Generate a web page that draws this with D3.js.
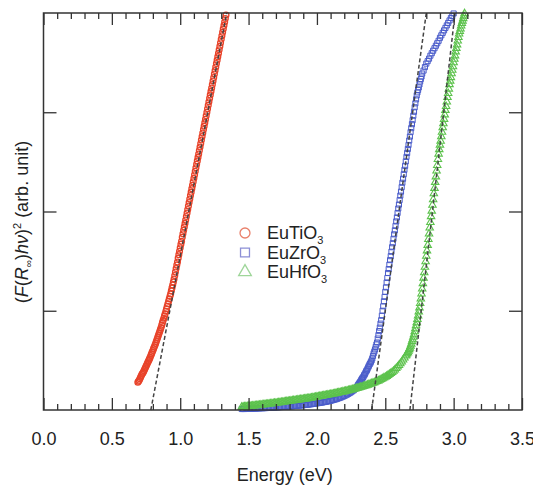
<!DOCTYPE html>
<html>
<head>
<meta charset="utf-8">
<script src="https://cdn.jsdelivr.net/npm/d3@7"></script>
<style>
  body { margin: 0; background: #fff; }
  text { font-family: "Liberation Sans", Arial, sans-serif; fill: #222; }
</style>
</head>
<body>
<svg id="chart" width="533" height="486"></svg>
<script>
// Kubelka–Munk Tauc plot: (F(R∞)hν)^2 versus photon energy

const xMajorTicks = [0, 0.5, 1.0, 1.5, 2.0, 2.5, 3.0, 3.5];
const xTickLabels = ["0.0", "0.5", "1.0", "1.5", "2.0", "2.5", "3.0", "3.5"];
const yMajorTicks = [1, 2, 3];

const seriesNames = ["EuTiO", "EuZrO", "EuHfO"];

// [energy (eV), (F(R)hv)^2 (arb. unit)]
const euTiO3 = [
  [0.690,0.28],[0.695,0.29],[0.700,0.30],[0.705,0.315],[0.710,0.33],[0.715,0.345],
  [0.720,0.36],[0.725,0.37],[0.730,0.38],[0.735,0.395],[0.740,0.41],[0.745,0.425],
  [0.750,0.44],[0.755,0.455],[0.760,0.47],[0.765,0.485],[0.770,0.50],[0.775,0.515],
  [0.780,0.53],[0.785,0.548],[0.790,0.565],[0.795,0.583],[0.800,0.60],[0.805,0.618],
  [0.810,0.635],[0.815,0.653],[0.820,0.67],[0.825,0.69],[0.830,0.71],[0.835,0.73],
  [0.840,0.75],[0.845,0.77],[0.850,0.79],[0.855,0.81],[0.860,0.83],[0.865,0.855],
  [0.870,0.88],[0.875,0.903],[0.880,0.925],[0.885,0.948],[0.890,0.97],[0.895,0.995],
  [0.900,1.02],[0.905,1.045],[0.910,1.07],[0.915,1.095],[0.920,1.12],
  [0.925,1.145],[0.930,1.17],[0.935,1.20],[0.940,1.23],[0.945,1.26],[0.950,1.29],
  [0.955,1.32],[0.960,1.355],[0.965,1.39],[0.970,1.425],[0.975,1.46],[0.980,1.49],
  [0.985,1.53],[0.990,1.565],[0.995,1.60],[1.000,1.635],[1.005,1.67],[1.010,1.70],
  [1.015,1.74],[1.020,1.775],[1.025,1.81],[1.030,1.845],[1.035,1.88],[1.040,1.915],
  [1.045,1.95],[1.050,1.985],[1.055,2.02],[1.060,2.055],[1.065,2.09],[1.070,2.125],
  [1.075,2.16],[1.080,2.195],[1.085,2.23],[1.090,2.265],[1.095,2.30],[1.100,2.335],
  [1.105,2.37],[1.110,2.405],[1.115,2.44],[1.120,2.475],[1.125,2.51],[1.130,2.545],
  [1.135,2.58],[1.140,2.615],[1.145,2.65],[1.150,2.685],[1.155,2.72],[1.160,2.755],
  [1.165,2.79],[1.170,2.825],[1.175,2.86],[1.180,2.895],[1.185,2.93],[1.190,2.965],
  [1.195,3.00],[1.200,3.035],[1.205,3.07],[1.210,3.105],[1.215,3.14],[1.220,3.175],
  [1.225,3.21],[1.230,3.245],[1.235,3.28],[1.240,3.315],[1.245,3.35],[1.250,3.385],
  [1.255,3.42],[1.260,3.455],[1.265,3.49],[1.270,3.525],[1.275,3.56],[1.280,3.595],
  [1.285,3.63],[1.290,3.665],[1.295,3.70],[1.300,3.735],[1.305,3.77],[1.310,3.805],
  [1.315,3.84],[1.320,3.875],[1.325,3.91],[1.330,3.945],[1.335,3.98]
];

const euZrO3 = [
  [1.45,0.010],[1.46,0.010],[1.47,0.010],[1.48,0.011],[1.49,0.012],[1.50,0.012],
  [1.51,0.013],[1.52,0.013],[1.53,0.014],[1.54,0.014],[1.55,0.015],[1.56,0.015],
  [1.57,0.016],[1.58,0.017],[1.59,0.018],[1.60,0.018],[1.61,0.019],[1.62,0.019],
  [1.63,0.020],[1.64,0.021],[1.65,0.022],[1.66,0.022],[1.67,0.023],[1.68,0.024],
  [1.69,0.025],[1.70,0.026],[1.71,0.027],[1.72,0.028],[1.73,0.029],[1.74,0.030],
  [1.75,0.031],[1.76,0.032],[1.77,0.033],[1.78,0.034],[1.79,0.035],[1.80,0.036],
  [1.81,0.037],[1.82,0.038],[1.83,0.040],[1.84,0.041],[1.85,0.042],[1.86,0.043],
  [1.87,0.045],[1.88,0.046],[1.89,0.048],[1.90,0.049],[1.91,0.051],[1.92,0.052],
  [1.93,0.054],[1.94,0.055],[1.95,0.057],[1.96,0.059],[1.97,0.061],[1.98,0.063],
  [1.99,0.065],[2.00,0.067],[2.01,0.070],[2.02,0.072],[2.03,0.074],[2.04,0.076],
  [2.05,0.079],[2.06,0.081],[2.07,0.084],[2.08,0.087],[2.09,0.090],[2.10,0.093],
  [2.11,0.097],[2.12,0.101],[2.13,0.105],[2.14,0.109],[2.15,0.114],[2.16,0.119],
  [2.17,0.124],[2.18,0.129],[2.19,0.135],[2.20,0.141],[2.21,0.148],[2.22,0.155],
  [2.23,0.163],[2.24,0.171],[2.25,0.180],[2.26,0.190],[2.27,0.200],[2.28,0.212],
  [2.29,0.225],[2.295,0.237],[2.300,0.25],[2.305,0.26],[2.310,0.27],[2.315,0.28],[2.320,0.29],
  [2.325,0.305],[2.330,0.315],[2.335,0.325],[2.340,0.335],[2.345,0.35],[2.350,0.36],
  [2.355,0.375],[2.360,0.39],[2.365,0.40],[2.370,0.415],[2.375,0.43],[2.380,0.445],
  [2.385,0.46],[2.390,0.47],[2.395,0.485],[2.400,0.50],[2.405,0.52],[2.410,0.545],
  [2.415,0.57],[2.420,0.59],[2.425,0.61],[2.430,0.635],[2.435,0.66],[2.440,0.68],
  [2.445,0.72],[2.450,0.755],[2.455,0.795],[2.460,0.83],[2.465,0.87],[2.470,0.905],
  [2.475,0.95],[2.480,1.00],[2.485,1.045],[2.490,1.095],[2.495,1.14],[2.500,1.19],
  [2.505,1.235],[2.510,1.285],[2.515,1.33],[2.520,1.38],[2.525,1.42],[2.530,1.465],
  [2.535,1.51],[2.540,1.55],[2.545,1.595],[2.550,1.64],[2.555,1.68],[2.560,1.725],
  [2.565,1.77],[2.570,1.81],[2.575,1.855],[2.580,1.90],[2.585,1.94],[2.590,1.985],
  [2.595,2.03],[2.600,2.07],[2.605,2.115],[2.610,2.16],[2.615,2.20],[2.620,2.245],
  [2.625,2.29],[2.630,2.33],[2.635,2.375],[2.640,2.42],[2.645,2.46],[2.650,2.505],
  [2.655,2.55],[2.660,2.59],[2.665,2.63],[2.670,2.67],[2.675,2.715],[2.680,2.755],
  [2.685,2.80],[2.690,2.84],[2.695,2.88],[2.700,2.92],[2.705,2.965],[2.710,3.005],
  [2.715,3.05],[2.720,3.09],[2.725,3.13],[2.730,3.17],[2.735,3.20],[2.740,3.225],
  [2.745,3.25],[2.750,3.28],[2.755,3.31],[2.760,3.335],[2.765,3.36],[2.770,3.39],
  [2.780,3.42],[2.790,3.455],[2.800,3.49],[2.810,3.515],[2.820,3.54],[2.830,3.57],
  [2.840,3.595],[2.850,3.62],[2.860,3.645],[2.870,3.67],[2.880,3.695],[2.890,3.72],
  [2.900,3.75],[2.910,3.775],[2.920,3.80],[2.930,3.825],[2.940,3.85],[2.950,3.875],
  [2.960,3.90],[2.970,3.925],[2.980,3.95],[2.990,3.97],[3.000,3.995]
];

const euHfO3 = [
  [1.45,0.030],[1.46,0.031],[1.47,0.033],[1.48,0.034],[1.49,0.036],[1.50,0.037],
  [1.51,0.039],[1.52,0.040],[1.53,0.042],[1.54,0.043],[1.55,0.045],[1.56,0.046],
  [1.57,0.048],[1.58,0.050],[1.59,0.052],[1.60,0.053],[1.61,0.055],[1.62,0.056],
  [1.63,0.058],[1.64,0.060],[1.65,0.062],[1.66,0.063],[1.67,0.065],[1.68,0.067],
  [1.69,0.069],[1.70,0.070],[1.71,0.072],[1.72,0.074],[1.73,0.076],[1.74,0.078],
  [1.75,0.080],[1.76,0.082],[1.77,0.084],[1.78,0.086],[1.79,0.088],[1.80,0.090],
  [1.81,0.092],[1.82,0.094],[1.83,0.096],[1.84,0.098],[1.85,0.100],[1.86,0.102],
  [1.87,0.104],[1.88,0.106],[1.89,0.108],[1.90,0.110],[1.91,0.112],[1.92,0.114],
  [1.93,0.116],[1.94,0.118],[1.95,0.120],[1.96,0.122],[1.97,0.125],[1.98,0.127],
  [1.99,0.130],[2.00,0.132],[2.01,0.135],[2.02,0.137],[2.03,0.140],[2.04,0.142],
  [2.05,0.145],[2.06,0.147],[2.07,0.150],[2.08,0.152],[2.09,0.155],[2.10,0.157],
  [2.11,0.160],[2.12,0.163],[2.13,0.166],[2.14,0.169],[2.15,0.172],[2.16,0.175],
  [2.17,0.178],[2.18,0.181],[2.19,0.184],[2.20,0.187],[2.21,0.190],[2.22,0.193],
  [2.23,0.197],[2.24,0.200],[2.25,0.204],[2.26,0.207],[2.27,0.211],[2.28,0.214],
  [2.29,0.218],[2.30,0.222],[2.31,0.226],[2.32,0.230],[2.33,0.234],[2.34,0.238],
  [2.35,0.243],[2.36,0.247],[2.37,0.252],[2.38,0.257],[2.39,0.262],[2.40,0.267],
  [2.41,0.272],[2.42,0.277],[2.43,0.283],[2.44,0.289],[2.45,0.295],[2.46,0.302],
  [2.47,0.310],[2.48,0.317],[2.49,0.325],[2.50,0.332],[2.51,0.340],[2.52,0.350],
  [2.53,0.360],[2.54,0.370],[2.55,0.380],[2.56,0.392],[2.57,0.405],[2.58,0.420],
  [2.59,0.435],[2.60,0.450],[2.61,0.467],[2.62,0.485],[2.63,0.505],[2.64,0.525],
  [2.65,0.545],[2.655,0.556],[2.660,0.568],[2.665,0.58],[2.670,0.595],[2.675,0.61],
  [2.680,0.625],[2.685,0.645],[2.690,0.665],[2.695,0.69],[2.700,0.71],[2.705,0.735],
  [2.710,0.76],[2.715,0.79],[2.720,0.82],[2.725,0.85],[2.730,0.88],[2.735,0.915],
  [2.740,0.95],[2.745,0.99],[2.750,1.03],[2.755,1.075],[2.760,1.12],[2.765,1.17],
  [2.770,1.22],[2.775,1.275],[2.780,1.33],[2.785,1.385],[2.790,1.44],[2.795,1.495],
  [2.800,1.55],[2.805,1.605],[2.810,1.66],[2.815,1.72],[2.820,1.775],[2.825,1.835],
  [2.830,1.89],[2.835,1.95],[2.840,2.005],[2.845,2.065],[2.850,2.12],[2.855,2.18],
  [2.860,2.235],[2.865,2.295],[2.870,2.35],[2.875,2.41],[2.880,2.465],[2.885,2.525],
  [2.890,2.58],[2.895,2.625],[2.900,2.67],[2.905,2.71],[2.910,2.755],[2.915,2.80],
  [2.920,2.845],[2.925,2.885],[2.930,2.93],[2.935,2.975],[2.940,3.02],[2.945,3.06],
  [2.950,3.105],[2.955,3.15],[2.960,3.19],[2.965,3.235],[2.970,3.28],[2.975,3.315],
  [2.980,3.35],[2.985,3.39],[2.990,3.425],[2.995,3.46],[3.000,3.50],[3.005,3.535],
  [3.010,3.57],[3.015,3.61],[3.020,3.645],[3.025,3.68],[3.030,3.72],[3.035,3.755],
  [3.040,3.79],[3.045,3.815],[3.050,3.84],[3.055,3.87],[3.060,3.895],[3.065,3.92],
  [3.070,3.945],[3.075,3.97],[3.080,3.995]
];

// Linear extrapolations of the absorption edges (band-gap intercepts)
const fitTi = [[0.785, 0], [1.340, 4]];
const fitZr = [[2.400, 0], [2.800, 4]];
const fitHf = [[2.680, 0], [3.010, 4]];

const svg = d3.select("#chart");
const L = 43.5, R = 522, T = 13, B = 410;

const x = d3.scaleLinear().domain([0, 3.5]).range([L, R]);
const y = d3.scaleLinear().domain([0, 4]).range([B, T]);

const axisColor = "#333";

// ---- data markers ----
const red = "#e8432a", blue = "#4a5cca", green = "#5cc24c";

const gData = svg.append("g");

gData.append("g").selectAll("circle").data(euTiO3).join("circle")
  .attr("cx", d => x(d[0])).attr("cy", d => y(d[1])).attr("r", 2.9)
  .attr("fill", "none").attr("stroke", red).attr("stroke-width", 1.3);

const sq = d3.symbol().type(d3.symbolSquare).size(26);
gData.append("g").selectAll("path").data(euZrO3).join("path")
  .attr("d", sq)
  .attr("transform", d => `translate(${x(d[0])},${y(d[1])})`)
  .attr("fill", "none").attr("stroke", blue).attr("stroke-width", 1.0);

const tri = d3.symbol().type(d3.symbolTriangle).size(24);
gData.append("g").selectAll("path").data(euHfO3).join("path")
  .attr("d", tri)
  .attr("transform", d => `translate(${x(d[0])},${y(d[1])})`)
  .attr("fill", "none").attr("stroke", green).attr("stroke-width", 1.1);

// ---- fitted edge lines ----
const line = d3.line().x(d => x(d[0])).y(d => y(d[1]));
svg.append("g").selectAll("path").data([fitTi, fitZr, fitHf]).join("path")
  .attr("d", line)
  .attr("fill", "none").attr("stroke", "#444")
  .attr("stroke-width", 1.5).attr("stroke-dasharray", "4,2.5");

// ---- axes ----
const xMinorTicks = d3.range(0, 36).map(i => i / 10)
  .filter(v => !xMajorTicks.some(m => Math.abs(m - v) < 1e-6));

function styleAxis(g) {
  g.select(".domain").remove();
  g.selectAll(".tick line").attr("stroke", axisColor).attr("stroke-width", 1.3);
}

// bottom
svg.append("g").attr("transform", `translate(0,${B})`)
  .call(d3.axisBottom(x).tickValues(xMinorTicks).tickSize(-6).tickFormat(""))
  .call(styleAxis);
svg.append("g").attr("transform", `translate(0,${B})`)
  .call(d3.axisBottom(x).tickValues(xMajorTicks).tickSize(-12).tickPadding(22)
    .tickFormat((d, i) => xTickLabels[i]))
  .call(styleAxis)
  .call(g => g.selectAll(".tick text")
    .attr("font-size", 18).attr("fill", "#222")
    .style("font-family", '"Liberation Sans", Arial, sans-serif'));
// top
svg.append("g").attr("transform", `translate(0,${T})`)
  .call(d3.axisTop(x).tickValues(xMinorTicks).tickSize(-6).tickFormat(""))
  .call(styleAxis);
svg.append("g").attr("transform", `translate(0,${T})`)
  .call(d3.axisTop(x).tickValues(xMajorTicks).tickSize(-12).tickFormat(""))
  .call(styleAxis);
// left & right
svg.append("g").attr("transform", `translate(${L},0)`)
  .call(d3.axisLeft(y).tickValues(yMajorTicks).tickSize(-13).tickFormat(""))
  .call(styleAxis);
svg.append("g").attr("transform", `translate(${R},0)`)
  .call(d3.axisRight(y).tickValues(yMajorTicks).tickSize(-13).tickFormat(""))
  .call(styleAxis);

// frame
svg.append("rect").attr("x", L).attr("y", T).attr("width", R - L).attr("height", B - T)
  .attr("fill", "none").attr("stroke", axisColor).attr("stroke-width", 1.5);

// ---- axis titles ----
svg.append("text").attr("x", (L + R) / 2 + 2).attr("y", 481)
  .attr("text-anchor", "middle").attr("font-size", 18).text("Energy (eV)");

const yt = svg.append("text")
  .attr("transform", `translate(28,222) rotate(-90)`)
  .attr("text-anchor", "middle").attr("font-size", 18);
yt.append("tspan").text("(");
yt.append("tspan").attr("font-style", "italic").text("F");
yt.append("tspan").text("(");
yt.append("tspan").attr("font-style", "italic").text("R");
yt.append("tspan").attr("font-size", 10).attr("dy", 4).text("∞");
yt.append("tspan").attr("dy", -4).text(")");
yt.append("tspan").attr("font-style", "italic").text("hν");
yt.append("tspan").text(")");
yt.append("tspan").attr("font-size", 11).attr("dy", -7).text("2");
yt.append("tspan").attr("dy", 7).text(" (arb. unit)");

// ---- legend ----
const legendColors = ["#e9806b", "#8c8fd6", "#9fd69a"];
const legendTypes = [d3.symbolCircle, d3.symbolSquare, d3.symbolTriangle];
const legendSizes = [78, 80, 70];
const lg = svg.append("g").attr("transform", "translate(245,233)");
seriesNames.forEach((name, i) => {
  const row = lg.append("g").attr("transform", `translate(0,${i * 19.5})`);
  row.append("path")
    .attr("d", d3.symbol().type(legendTypes[i]).size(legendSizes[i]))
    .attr("fill", "none").attr("stroke", legendColors[i]).attr("stroke-width", 1.3);
  const t = row.append("text").attr("x", 22).attr("y", 6).attr("font-size", 18);
  t.append("tspan").text(name);
  t.append("tspan").attr("font-size", 11).attr("dy", 5).text("3");
});
</script>
</body>
</html>
